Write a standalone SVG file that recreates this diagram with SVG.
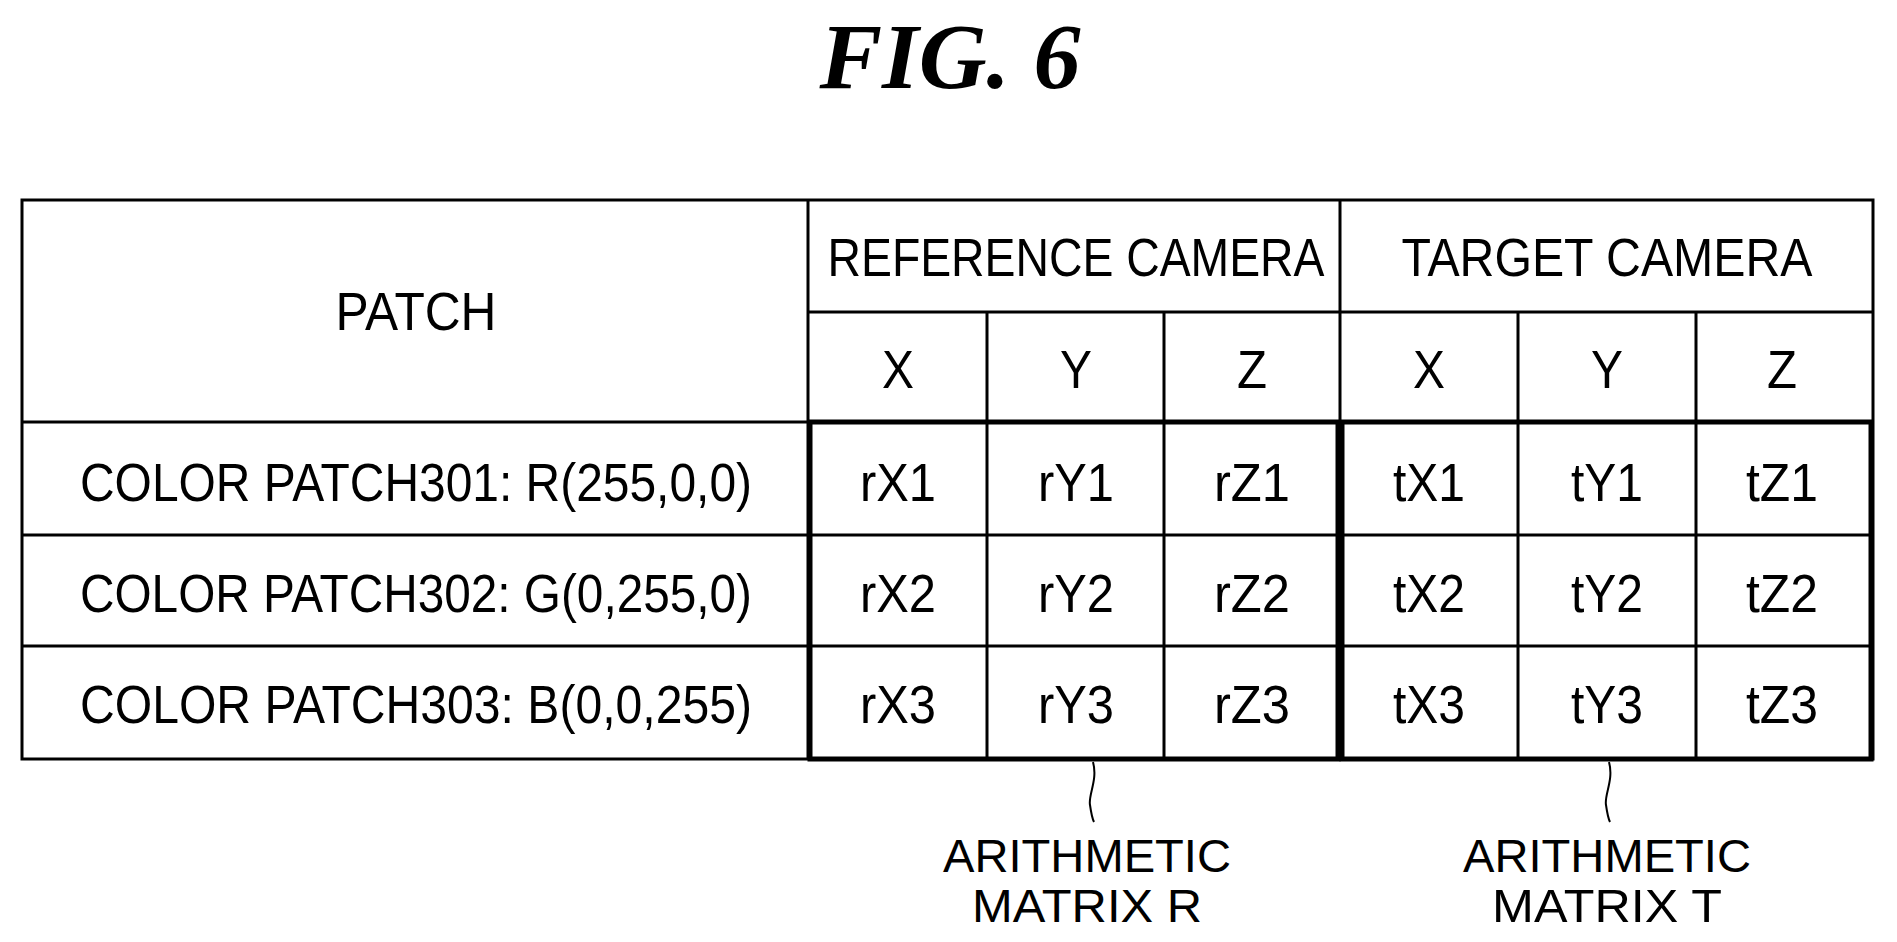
<svg xmlns="http://www.w3.org/2000/svg" width="1897" height="942" viewBox="0 0 1897 942">
<style>
.t{font-family:"Liberation Sans",Arial,sans-serif;font-size:54px;text-anchor:middle;fill:#000}
.l{font-family:"Liberation Sans",Arial,sans-serif;font-size:46px;text-anchor:middle;fill:#000}
.g line{stroke:#000;stroke-width:3}
.thick{stroke:#000;stroke-width:5;fill:none}
.lead{stroke:#000;stroke-width:2;fill:none}
</style>
<rect width="1897" height="942" fill="#fff"/>
<text x="950" y="88" style="font-family:'Liberation Serif',serif;font-size:94px;font-weight:bold;font-style:italic;text-anchor:middle">FIG. 6</text>
<g id="table" class="g">
<rect x="22" y="200" width="1851" height="559" fill="none" stroke="#000" stroke-width="3"/>
<line x1="808" y1="200" x2="808" y2="759"/>
<line x1="1340" y1="200" x2="1340" y2="759"/>
<line x1="808" y1="312" x2="1873" y2="312"/>
<line x1="987" y1="312" x2="987" y2="759"/>
<line x1="1164" y1="312" x2="1164" y2="759"/>
<line x1="1518" y1="312" x2="1518" y2="759"/>
<line x1="1696" y1="312" x2="1696" y2="759"/>
<line x1="22" y1="422" x2="1873" y2="422"/>
<line x1="22" y1="535" x2="1873" y2="535"/>
<line x1="22" y1="646" x2="1873" y2="646"/>
</g>
<g id="matrixR"><rect class="thick" x="810" y="422" width="528" height="337"/></g>
<g id="matrixT"><rect class="thick" x="1342" y="422" width="529" height="337"/></g>
<g id="headers">
<text class="t" x="416" y="330" textLength="161" lengthAdjust="spacingAndGlyphs">PATCH</text>
<text class="t" x="1076" y="276" textLength="497" lengthAdjust="spacingAndGlyphs">REFERENCE CAMERA</text>
<text class="t" x="1607" y="276" textLength="411" lengthAdjust="spacingAndGlyphs">TARGET CAMERA</text>
<text class="t" x="898" y="388" textLength="32" lengthAdjust="spacingAndGlyphs">X</text>
<text class="t" x="1076" y="388" textLength="32" lengthAdjust="spacingAndGlyphs">Y</text>
<text class="t" x="1252" y="388" textLength="30" lengthAdjust="spacingAndGlyphs">Z</text>
<text class="t" x="1429" y="388" textLength="32" lengthAdjust="spacingAndGlyphs">X</text>
<text class="t" x="1607" y="388" textLength="32" lengthAdjust="spacingAndGlyphs">Y</text>
<text class="t" x="1782" y="388" textLength="30" lengthAdjust="spacingAndGlyphs">Z</text>
</g>
<g id="rows">
<text class="t" x="416" y="501" textLength="672" lengthAdjust="spacingAndGlyphs">COLOR PATCH301: R(255,0,0)</text>
<text class="t" x="416" y="612" textLength="672" lengthAdjust="spacingAndGlyphs">COLOR PATCH302: G(0,255,0)</text>
<text class="t" x="416" y="723" textLength="672" lengthAdjust="spacingAndGlyphs">COLOR PATCH303: B(0,0,255)</text>
<text class="t" x="898" y="501" textLength="76" lengthAdjust="spacingAndGlyphs">rX1</text>
<text class="t" x="1076" y="501" textLength="76" lengthAdjust="spacingAndGlyphs">rY1</text>
<text class="t" x="1252" y="501" textLength="76" lengthAdjust="spacingAndGlyphs">rZ1</text>
<text class="t" x="1429" y="501" textLength="72" lengthAdjust="spacingAndGlyphs">tX1</text>
<text class="t" x="1607" y="501" textLength="72" lengthAdjust="spacingAndGlyphs">tY1</text>
<text class="t" x="1782" y="501" textLength="72" lengthAdjust="spacingAndGlyphs">tZ1</text>
<text class="t" x="898" y="612" textLength="76" lengthAdjust="spacingAndGlyphs">rX2</text>
<text class="t" x="1076" y="612" textLength="76" lengthAdjust="spacingAndGlyphs">rY2</text>
<text class="t" x="1252" y="612" textLength="76" lengthAdjust="spacingAndGlyphs">rZ2</text>
<text class="t" x="1429" y="612" textLength="72" lengthAdjust="spacingAndGlyphs">tX2</text>
<text class="t" x="1607" y="612" textLength="72" lengthAdjust="spacingAndGlyphs">tY2</text>
<text class="t" x="1782" y="612" textLength="72" lengthAdjust="spacingAndGlyphs">tZ2</text>
<text class="t" x="898" y="723" textLength="76" lengthAdjust="spacingAndGlyphs">rX3</text>
<text class="t" x="1076" y="723" textLength="76" lengthAdjust="spacingAndGlyphs">rY3</text>
<text class="t" x="1252" y="723" textLength="76" lengthAdjust="spacingAndGlyphs">rZ3</text>
<text class="t" x="1429" y="723" textLength="72" lengthAdjust="spacingAndGlyphs">tX3</text>
<text class="t" x="1607" y="723" textLength="72" lengthAdjust="spacingAndGlyphs">tY3</text>
<text class="t" x="1782" y="723" textLength="72" lengthAdjust="spacingAndGlyphs">tZ3</text>
</g>
<g id="connectors">
<path class="lead" d="M1093,762 C1098,780 1088,795 1090,805 C1091,812 1092,818 1094,822"/>
<path class="lead" d="M1609,762 C1614,780 1604,795 1606,805 C1607,812 1608,818 1610,822"/>
</g>
<g id="labelR">
<text class="l" x="1087" y="872" textLength="288" lengthAdjust="spacingAndGlyphs">ARITHMETIC</text>
<text class="l" x="1087" y="922" textLength="230" lengthAdjust="spacingAndGlyphs">MATRIX R</text>
</g>
<g id="labelT">
<text class="l" x="1607" y="872" textLength="288" lengthAdjust="spacingAndGlyphs">ARITHMETIC</text>
<text class="l" x="1607" y="922" textLength="230" lengthAdjust="spacingAndGlyphs">MATRIX T</text>
</g>
</svg>
